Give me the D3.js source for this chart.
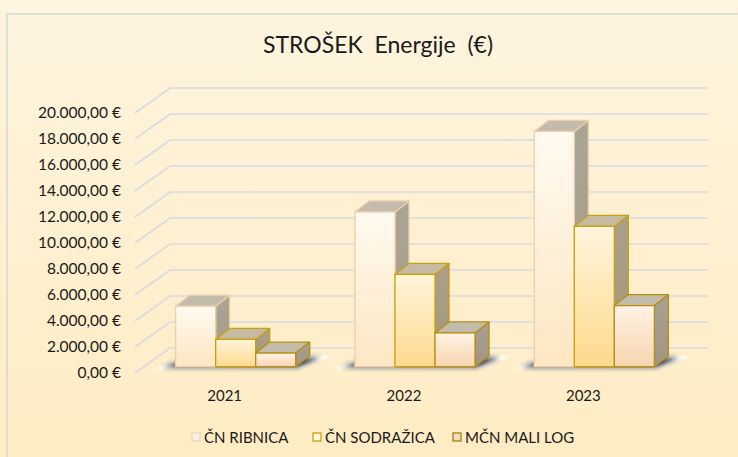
<!DOCTYPE html>
<html>
<head>
<meta charset="utf-8">
<script src="https://cdn.jsdelivr.net/npm/d3@7"></script>
<style>
html,body{margin:0;padding:0;background:#fdf1d8;}
svg{display:block;}
text{font-family:"Lato","Open Sans",sans-serif;fill:#1a1a1a;}
</style>
</head>
<body>
<script>
// ---- data ----
const categories = ["2021", "2022", "2023"];
const seriesNames = ["ČN RIBNICA", "ČN SODRAŽICA", "MČN MALI LOG"];
const ribnica   = [4650, 11900, 18100];
const sodrazica = [2100, 7100, 10800];
const maliLog   = [1050, 2600, 4700];
const yTicks = [0, 2000, 4000, 6000, 8000, 10000, 12000, 14000, 16000, 18000, 20000];
const titleText = "STROŠEK  Energije  (€)";

const seriesValues = [ribnica, sodrazica, maliLog];

const W = 738, H = 457;
const svg = d3.select("body").append("svg").attr("width", W).attr("height", H);
const defs = svg.append("defs");

// background gradient
const bg = defs.append("linearGradient").attr("id","bg").attr("x1",0).attr("y1",0).attr("x2",0).attr("y2",1);
bg.append("stop").attr("offset","0%").attr("stop-color","#fef4df");
bg.append("stop").attr("offset","100%").attr("stop-color","#feecc3");
svg.append("rect").attr("width",W).attr("height",H).attr("fill","url(#bg)");
// chart border
svg.append("path").attr("d",`M7,${H} L7,14 L${W},14`).attr("fill","none")
  .attr("stroke","#d6d6d6").attr("stroke-width",1.5);

// styles per series
const styles = [
  {front:["#fffaf0","#fde6c2"], stroke:"#ecd0aa", side:["#aba595","#a39a88"], top:"#c3bbab", sw:["#fbefe2","#efd6bd"]},
  {front:["#fff5dc","#fed98c"], stroke:"#c9a10c", side:["#aaa08a","#a3957a"], top:"#c5bba2", sw:["#fff6dc","#c9a10c"]},
  {front:["#fff3e6","#f8d4ae"], stroke:"#b88f10", side:["#aaa294","#a29480"], top:"#c4bcab", sw:["#f4dcc0","#a6800c"]}
];
styles.forEach((s,i)=>{
  const g = defs.append("linearGradient").attr("id","f"+i).attr("x1",0).attr("y1",0).attr("x2",0).attr("y2",1);
  g.append("stop").attr("offset","0%").attr("stop-color",s.front[0]);
  g.append("stop").attr("offset","100%").attr("stop-color",s.front[1]);
  const h = defs.append("linearGradient").attr("id","s"+i).attr("x1",0).attr("y1",0).attr("x2",0).attr("y2",1);
  h.append("stop").attr("offset","0%").attr("stop-color",s.side[0]);
  h.append("stop").attr("offset","100%").attr("stop-color",s.side[1]);
});
defs.append("filter").attr("id","blur3").attr("x","-50%").attr("y","-50%").attr("width","200%").attr("height","200%")
  .append("feGaussianBlur").attr("stdDeviation",2.6);
defs.append("filter").attr("id","blur1").attr("x","-50%").attr("y","-50%").attr("width","200%").attr("height","200%")
  .append("feGaussianBlur").attr("stdDeviation",1.2);

// ---- scales ----
const x0 = 135, x1 = 673;          // front floor edge
const depthX = 35, depthY = -25;   // wall depth
const y = d3.scaleLinear().domain([0, 20000]).range([373, 113]);
const x = d3.scaleBand().domain(categories).range([x0, x1]);
const xs = d3.scaleBand().domain(seriesNames).range([0, x.bandwidth()]).paddingOuter(0.74).paddingInner(0);
const offX = 11, offY = -6.3;      // bar front plane offset
const bdx = 14, bdy = -11;         // bar depth

// title
svg.append("text").attr("x", 378).attr("y", 53).attr("text-anchor","middle")
  .style("font-size","23px").style("white-space","pre").text(titleText);

// gridlines (oblique + back wall)
svg.append("g").selectAll("path").data(yTicks).join("path")
  .attr("d", v => `M${x0},${y(v)} L${x0+depthX},${y(v)+depthY} L708,${y(v)+depthY}`)
  .attr("fill","none").attr("stroke","#d7dae3").attr("stroke-width",1.6);

// y axis labels
const loc = d3.formatLocale({decimal:",", thousands:".", grouping:[3], currency:["",""]});
const fmt = loc.format(",.2f");
const yAxis = d3.axisLeft(y).tickValues(yTicks).tickSize(0).tickPadding(14).tickFormat(d => fmt(d) + " €");
const ya = svg.append("g").attr("transform",`translate(${x0},0)`).call(yAxis);
ya.select(".domain").remove();
ya.selectAll("text").style("font-size","15.5px").style("font-family","Lato, sans-serif").attr("fill","#1a1a1a");

// x axis labels
const xAxis = d3.axisBottom(x).tickSize(0).tickPadding(17);
const xa = svg.append("g").attr("transform",`translate(0,${y(0)})`).call(xAxis);
xa.select(".domain").remove();
xa.selectAll("text").style("font-size","15px").style("font-family","Lato, sans-serif").attr("fill","#1a1a1a");

// bars
const bars = svg.append("g");
categories.forEach((c, ci) => {
  const gl = x(c) + xs(seriesNames[0]) + offX;
  const gr = x(c) + xs(seriesNames[2]) + xs.bandwidth() + offX;
  const b = y(0) + offY;
  // floor shadow
  bars.append("path")
    .attr("d", `M${gl-20},${b+2.5} L${gr+6},${b+2.5} L${gr+bdx+22},${b+bdy} L${gl+bdx-6},${b+bdy} Z`)
    .attr("fill","#ffffff").attr("opacity",0.95).attr("filter","url(#blur1)");
  bars.append("path")
    .attr("d", `M${gl-13},${b+0.5} L${gr+2},${b+0.5} L${gr+bdx+11},${b+bdy+2} L${gl+bdx},${b+bdy+2} Z`)
    .attr("fill","#262626").attr("opacity",0.95).attr("filter","url(#blur3)");
  seriesNames.forEach((s, si) => {
    const v = seriesValues[si][ci];
    const L = x(c) + xs(s) + offX, R = L + xs.bandwidth();
    const T = y(v) + offY;
    const st = styles[si];
    // side
    bars.append("path").attr("d", `M${R},${b} L${R+bdx},${b+bdy} L${R+bdx},${T+bdy} L${R},${T} Z`)
      .attr("fill",`url(#s${si})`).attr("stroke",st.stroke).attr("stroke-width",1.3).attr("stroke-linejoin","round");
    // top
    bars.append("path").attr("d", `M${L},${T} L${R},${T} L${R+bdx},${T+bdy} L${L+bdx},${T+bdy} Z`)
      .attr("fill",st.top).attr("stroke",st.stroke).attr("stroke-width",1.3).attr("stroke-linejoin","round");
    // front
    bars.append("rect").attr("x",L).attr("y",T).attr("width",R-L).attr("height",b-T)
      .attr("fill",`url(#f${si})`).attr("stroke",st.stroke).attr("stroke-width",1.3);
  });
});

// legend
const legX = [192, 313, 453];
const lg = svg.append("g");
seriesNames.forEach((s, i) => {
  lg.append("rect").attr("x", legX[i]).attr("y", 433).attr("width", 8).attr("height", 8)
    .attr("fill", styles[i].sw[0]).attr("stroke", styles[i].sw[1]).attr("stroke-width", 1.3);
  lg.append("text").attr("x", legX[i] + 12).attr("y", 443).style("font-size","15px").text(s);
});
</script>
</body>
</html>
